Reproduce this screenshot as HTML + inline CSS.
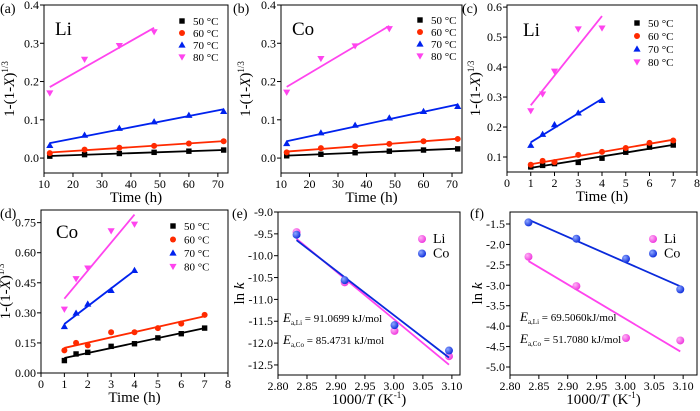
<!DOCTYPE html>
<html><head><meta charset="utf-8"><style>
body{margin:0;background:#fff}
svg{display:block}
svg text{font-family:"Liberation Serif","Times New Roman",serif}
</style></head><body>
<svg id="fig" width="700" height="411" viewBox="0 0 700 411" xmlns="http://www.w3.org/2000/svg" font-family="Liberation Serif, Times New Roman, serif"></svg>
<script>
// ---- data ----
const tempLabels = ["50 °C","60 °C","70 °C","80 °C"];
const timeLong = [12,24,36,48,60,72];
const timeShort = [12,24,36,48];
const aLi50 = [0.005,0.009,0.012,0.015,0.018,0.021];
const aLi60 = [0.013,0.022,0.027,0.032,0.038,0.044];
const aLi70 = [0.033,0.060,0.078,0.095,0.112,0.122];
const aLi80 = [0.17,0.258,0.294,0.33];
const bCo50 = [0.006,0.010,0.014,0.018,0.021,0.024];
const bCo60 = [0.015,0.026,0.031,0.037,0.044,0.050];
const bCo70 = [0.038,0.066,0.086,0.105,0.122,0.135];
const bCo80 = [0.172,0.26,0.293,0.338];
const hLong = [1,1.5,2,3,4,5,6,7];
const hShort = [1,1.5,2,3,4];
const cLi50 = [0.067,0.072,0.078,0.082,0.096,0.116,0.133,0.14];
const cLi60 = [0.074,0.087,0.083,0.107,0.117,0.13,0.147,0.155];
const cLi70 = [0.139,0.176,0.208,0.247,0.289];
const cLi80 = [0.254,0.31,0.386,0.527,0.53];
const dCo50 = [0.062,0.095,0.103,0.133,0.146,0.175,0.196,0.224];
const dCo60 = [0.113,0.15,0.138,0.203,0.203,0.224,0.246,0.29];
const dCo70 = [0.232,0.299,0.344,0.412,0.512];
const dCo80 = [0.318,0.47,0.523,0.709,0.742];
const invT = [2.832,2.915,3.001,3.095];
const eLi = [-9.46,-10.61,-11.72,-12.30];
const eCo = [-9.52,-10.56,-11.59,-12.17];
const fLi = [-2.30,-3.02,-4.29,-4.35];
const fCo = [-1.46,-1.86,-2.35,-3.10];
const ticksTime = [10,20,30,40,50,60,70];
const ticksH = [0,1,2,3,4,5,6,7,8];
const ticksAB = [0.0,0.1,0.2,0.3,0.4];
const ticksC = [0.1,0.2,0.3,0.4,0.5,0.6];
const ticksD = [0.00,0.15,0.30,0.45,0.60,0.75];
const ticksInvT = [2.80,2.85,2.90,2.95,3.00,3.05,3.10];
const ticksE = [-12.5,-12.0,-11.5,-11.0,-10.5,-10.0,-9.5,-9.0];
const ticksF = [-5.0,-4.5,-4.0,-3.5,-3.0,-2.5,-2.0,-1.5];

const NS="http://www.w3.org/2000/svg";
const svg=document.getElementById('fig');
const FONT="Liberation Serif, Times New Roman, serif";
function mk(tag,attrs,parent){const e=document.createElementNS(NS,tag);for(const k in attrs)e.setAttribute(k,attrs[k]);if(tag==='text')e.setAttribute('font-family',FONT);(parent||svg).appendChild(e);return e;}
const colors=["#000","#ff2a00","#0022ee","#ff44ee"];
const shapes=["square","circle","up","down"];
function marker(g,shape,cx,cy,col){
  let m;
  if(shape==="square")m=mk('rect',{x:cx-2.7,y:cy-2.7,width:5.4,height:5.4,fill:col},g);
  else if(shape==="circle")m=mk('circle',{cx:cx,cy:cy,r:3,fill:col},g);
  else if(shape==="up")m=mk('polygon',{points:`${cx},${cy-3.6} ${cx-3.6},${cy+2.6} ${cx+3.6},${cy+2.6}`,fill:col},g);
  else if(shape==="sphere")m=mk('circle',{cx:cx,cy:cy,r:4,fill:col},g);
  else m=mk('polygon',{points:`${cx},${cy+3.6} ${cx-3.6},${cy-2.6} ${cx+3.6},${cy-2.6}`,fill:col},g);
  return m;
}
function fit(xs,ys){const n=xs.length;const mx=xs.reduce((a,b)=>a+b)/n,my=ys.reduce((a,b)=>a+b)/n;let sxy=0,sxx=0;for(let i=0;i<n;i++){sxy+=(xs[i]-mx)*(ys[i]-my);sxx+=(xs[i]-mx)**2;}const s=sxy/sxx;return [s,my-s*mx];}
const defs=mk('defs',{});
[["gp","#ffb3f5","#ee33dd"],["gb","#8fa8ff","#0a2adb"]].forEach(([id,c1,c2])=>{const g=mk('radialGradient',{id:id,cx:"0.35",cy:"0.35",r:"0.7"},defs);mk('stop',{offset:"0",'stop-color':c1},g);mk('stop',{offset:"1",'stop-color':c2},g);});

function panel(p){
  const g=mk('g',{});
  
  
  const X=v=>p.L+(v-p.xd[0])/(p.xd[1]-p.xd[0])*(p.R-p.L);
  const Y=v=>p.B-(v-p.yd[0])/(p.yd[1]-p.yd[0])*(p.B-p.T);
  const fr=mk('rect',{x:p.L,y:p.T,width:p.R-p.L,height:p.B-p.T,fill:"none",stroke:"#000","stroke-width":1},g);
  
  const xg=mk('g',{},g);
  p.xt.forEach(v=>{const x=X(v);mk('line',{x1:x,x2:x,y1:p.B,y2:p.B+4,stroke:"#000"},xg);
    const t=mk('text',{x:x,y:p.B+15,'font-size':12,'text-anchor':"middle"},xg);t.textContent=p.xf(v);
    });
  const yg=mk('g',{},g);
  p.yt.forEach(v=>{const y=Y(v);mk('line',{x1:p.L-4,x2:p.L,y1:y,y2:y,stroke:"#000"},yg);
    const t=mk('text',{x:p.L-5,y:y+4,'font-size':12,'text-anchor':"end"},yg);t.textContent=p.yf(v);
    });
  const pl=mk('text',{x:p.lx,y:p.ly,'font-size':14},g);pl.textContent="("+p.id+")";
  
  const xt=mk('text',{x:(p.L+p.R)/2,y:p.B+29,'font-size':15,'text-anchor':"middle"},g);
  
  xt.innerHTML=p.xtitle;
  const yt=mk('text',{transform:`translate(${p.ytx},${(p.T+p.B)/2}) rotate(-90)`,'font-size':15,'text-anchor':"middle"},g);
  
  yt.innerHTML=p.ytitle;
  p.series.forEach((s,i)=>{
    const sg=mk('g',{},g);
    
    
    const [m,b]=fit(s.x,s.y);
    const x0=s.x[0],x1=s.x[s.x.length-1];
    const ln=mk('line',{x1:X(x0),y1:Y(m*x0+b),x2:X(x1),y2:Y(m*x1+b),stroke:s.col,'stroke-width':1.8},sg);
    
    s.y.forEach((v,j)=>{const mm=marker(sg,s.shape,X(s.x[j]),Y(v),s.fill||s.col);
      });
  });
  const lg=mk('g',{},g);
  p.series.forEach((s,i)=>{const y=p.legY+i*p.legDy;
    const mm=marker(lg,s.shape,p.legX,y,s.fill||s.col);
    
    const t=mk('text',{x:p.legX+11,y:y+4,'font-size':p.legFs||11},lg);t.textContent=s.label;
    });
  if(p.tag){const t=mk('text',{x:p.tag[0],y:p.tag[1],'font-size':19},g);t.textContent=p.tag[2];
    }
  (p.notes||[]).forEach(n=>{const t=mk('text',{x:n[0],y:n[1],'font-size':11},g);t.innerHTML=n[2];
    });
}
const ytA='1-(1-<tspan font-style="italic">X</tspan>)<tspan font-size="9" dy="-6">1/3</tspan>';
const timeT='Time (h)';
const invTT='1000/<tspan font-style="italic">T</tspan> (K<tspan font-size="9" dy="-6">-1</tspan><tspan dy="6">)</tspan>';
const lnk='ln <tspan font-style="italic">k</tspan>';
function kin(a,b,c,d,xs1,xs2){return [
  {name:"50C",x:xs1,y:a,col:colors[0],shape:shapes[0],label:tempLabels[0]},
  {name:"60C",x:xs1,y:b,col:colors[1],shape:shapes[1],label:tempLabels[1]},
  {name:"70C",x:xs1.slice(0,c.length),y:c,col:colors[2],shape:shapes[2],label:tempLabels[2]},
  {name:"80C",x:xs2,y:d,col:colors[3],shape:shapes[3],label:tempLabels[3]}];}
const f1=v=>v.toFixed(1), f0=v=>String(v), f2=v=>v.toFixed(2);
panel({id:"a",L:44,R:228,T:5,B:173,xd:[10,73.5],yd:[-0.039,0.4],xt:ticksTime,yt:ticksAB,xf:f0,yf:f1,
  lx:0,ly:13,ytx:14,xtitle:timeT,ytitle:ytA,series:kin(aLi50,aLi60,aLi70,aLi80,timeLong,timeShort),
  legX:182,legY:21,legDy:12,tag:[55,35,"Li"]});
panel({id:"b",L:281,R:462,T:5,B:173,xd:[10,73.5],yd:[-0.039,0.4],xt:ticksTime,yt:ticksAB,xf:f0,yf:f1,
  lx:233,ly:13,ytx:250,xtitle:timeT,ytitle:ytA,series:kin(bCo50,bCo60,bCo70,bCo80,timeLong,timeShort),
  legX:420,legY:20,legDy:12,tag:[292,35,"Co"]});
panel({id:"c",L:507,R:697,T:5,B:172,xd:[0,8],yd:[0.05,0.607],xt:ticksH,yt:ticksC,xf:f0,yf:f1,
  lx:462,ly:13,ytx:480,xtitle:timeT,ytitle:ytA,series:kin(cLi50,cLi60,cLi70,cLi80,hLong,hShort),
  legX:637,legY:23,legDy:13,tag:[523,36,"Li"]});
panel({id:"d",L:41,R:228,T:210,B:373,xd:[0,8],yd:[0,0.813],xt:ticksH,yt:ticksD,xf:f0,yf:f2,
  lx:0,ly:218,ytx:10,xtitle:timeT,ytitle:ytA,series:kin(dCo50,dCo60,dCo70,dCo80,hLong,hShort),
  legX:173,legY:226,legDy:13.5,tag:[56,238,"Co"]});
panel({id:"e",L:278,R:460,T:212,B:375,xd:[2.80,3.114],yd:[-12.73,-9.0],xt:ticksInvT,yt:ticksE,xf:f2,yf:f1,
  lx:232,ly:218,ytx:244,xtitle:invTT,ytitle:lnk,
  series:[{name:"Li",x:invT,y:eLi,col:"#ff44ee",fill:"url(#gp)",shape:"sphere",label:"Li"},
          {name:"Co",x:invT,y:eCo,col:"#0a2adb",fill:"url(#gb)",shape:"sphere",label:"Co"}],
  legX:422,legY:239,legDy:14.5,legFs:14,
  notes:[[283,322,'<tspan font-style="italic" font-size="13">E</tspan><tspan font-size="7" dy="3">a,Li</tspan><tspan dy="-3"> = 91.0699 kJ/mol</tspan>'],
         [283,344,'<tspan font-style="italic" font-size="13">E</tspan><tspan font-size="7" dy="3">a,Co</tspan><tspan dy="-3"> = 85.4731 kJ/mol</tspan>']]});
panel({id:"f",L:510,R:697,T:212,B:375,xd:[2.80,3.124],yd:[-5.196,-1.206],xt:ticksInvT,yt:ticksF,xf:f2,yf:f1,
  lx:470,ly:218,ytx:482,xtitle:invTT,ytitle:lnk,
  series:[{name:"Li",x:invT,y:fLi,col:"#ff44ee",fill:"url(#gp)",shape:"sphere",label:"Li"},
          {name:"Co",x:invT,y:fCo,col:"#0a2adb",fill:"url(#gb)",shape:"sphere",label:"Co"}],
  legX:653,legY:239,legDy:14.5,legFs:14,
  notes:[[520,321,'<tspan font-style="italic" font-size="13">E</tspan><tspan font-size="7" dy="3">a,Li</tspan><tspan dy="-3"> = 69.5060kJ/mol</tspan>'],
         [520,343,'<tspan font-style="italic" font-size="13">E</tspan><tspan font-size="7" dy="3">a,Co</tspan><tspan dy="-3"> = 51.7080 kJ/mol</tspan>']]});
</script>
</body></html>
